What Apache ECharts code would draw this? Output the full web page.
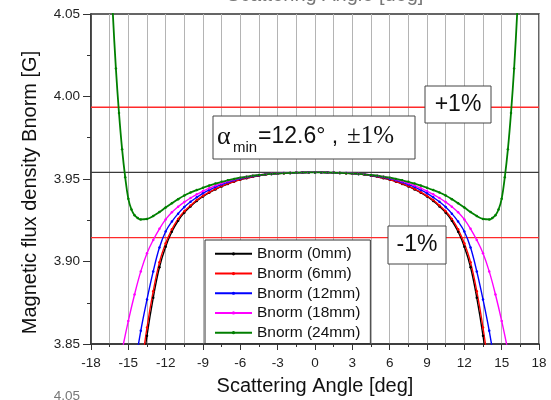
<!DOCTYPE html>
<html>
<head>
<meta charset="utf-8">
<script src="https://cdn.jsdelivr.net/npm/echarts@6/dist/echarts.min.js"></script>
<style>
  html, body { margin: 0; padding: 0; background: #fff; }
  #chart { width: 551px; height: 400px; }
</style>
</head>
<body>
<div id="chart"></div>
<script>
// Scattering angle samples (deg) shared by the 0–18 mm curves
const angleGrid = [-16.5,-16,-15.5,-15,-14.5,-14,-13.5,-13,-12.5,-12,-11.5,-11,-10.5,-10,-9.5,-9,-8.5,-8,-7.5,-7,-6.5,-6,-5.5,-5,-4.5,-4,-3.5,-3,-2.5,-2,-1.5,-1,-0.5,
  0,0.5,1,1.5,2,2.5,3,3.5,4,4.5,5,5.5,6,6.5,7,7.5,8,8.5,9,9.5,10,10.5,11,11.5,12,12.5,13,13.5,14,14.5,15,15.5,16,16.5];

// Bnorm [G] along angleGrid
const bnorm0mm = [null,null,null,null,null,3.8260,3.8550,3.8780,3.8965,3.9090,3.9180,3.9247,3.9296,3.9334,3.9367,3.9394,3.9417,3.9437,3.9455,3.9470,3.9484,3.9496,3.9505,3.9513,3.9520,3.9526,3.9530,3.9533,3.9535,3.9537,3.9538,3.9539,3.9540,
  3.9540,3.9540,3.9539,3.9538,3.9537,3.9535,3.9533,3.9530,3.9526,3.9520,3.9513,3.9505,3.9496,3.9484,3.9470,3.9455,3.9437,3.9417,3.9394,3.9367,3.9334,3.9296,3.9247,3.9180,3.9090,3.8965,3.8780,3.8550,3.8260,null,null,null,null,null];
const bnorm6mm = [null,null,null,null,null,3.8330,3.8600,3.8820,3.8995,3.9110,3.9195,3.9258,3.9304,3.9340,3.9372,3.9398,3.9420,3.9440,3.9457,3.9472,3.9485,3.9497,3.9506,3.9514,3.9521,3.9526,3.9530,3.9533,3.9535,3.9537,3.9538,3.9539,3.9540,
  3.9540,3.9540,3.9539,3.9538,3.9537,3.9535,3.9533,3.9530,3.9526,3.9521,3.9514,3.9506,3.9497,3.9485,3.9472,3.9457,3.9440,3.9420,3.9398,3.9372,3.9340,3.9304,3.9258,3.9195,3.9110,3.8995,3.8820,3.8600,3.8330,null,null,null,null,null];
const bnorm12mm = [null,null,null,null,3.8350,3.8580,3.8770,3.8940,3.9085,3.9182,3.9242,3.9290,3.9330,3.9362,3.9389,3.9413,3.9433,3.9451,3.9466,3.9480,3.9492,3.9502,3.9510,3.9517,3.9523,3.9528,3.9531,3.9534,3.9536,3.9537,3.9538,3.9539,3.9540,
  3.9540,3.9540,3.9539,3.9538,3.9537,3.9536,3.9534,3.9531,3.9528,3.9523,3.9517,3.9510,3.9502,3.9492,3.9480,3.9466,3.9451,3.9433,3.9413,3.9389,3.9362,3.9330,3.9290,3.9242,3.9182,3.9085,3.8940,3.8770,3.8580,3.8350,null,null,null,null];
const bnorm18mm = [null,3.8260,3.8460,3.8640,3.8800,3.8940,3.9050,3.9130,3.9198,3.9255,3.9298,3.9332,3.9360,3.9385,3.9407,3.9427,3.9444,3.9460,3.9474,3.9486,3.9497,3.9506,3.9514,3.9520,3.9525,3.9529,3.9532,3.9534,3.9536,3.9537,3.9538,3.9539,3.9540,
  3.9540,3.9540,3.9539,3.9538,3.9537,3.9536,3.9534,3.9532,3.9529,3.9525,3.9520,3.9514,3.9506,3.9497,3.9486,3.9474,3.9460,3.9444,3.9427,3.9407,3.9385,3.9360,3.9332,3.9298,3.9255,3.9198,3.9130,3.9050,3.8940,3.8800,3.8640,3.8460,3.8260,null];

// The 24 mm curve turns sharply near its minima, so it is sampled more finely there
const angle24mm = [-16.5,-16.25,-16,-15.75,-15.5,-15.25,-15,-14.75,-14.5,-14.25,-14,-13.5,-13,-12.5,-12,-11.5,-11,-10.5,-10,-9.5,-9,-8.5,-8,-7.5,-7,-6.5,-6,-5.5,-5,-4.5,-4,-3.5,-3,-2.5,-2,-1.5,-1,-0.5,
  0,0.5,1,1.5,2,2.5,3,3.5,4,4.5,5,5.5,6,6.5,7,7.5,8,8.5,9,9.5,10,10.5,11,11.5,12,12.5,13,13.5,14,14.25,14.5,14.75,15,15.25,15.5,15.75,16,16.25,16.5];
const bnorm24mm = [4.0900,4.0510,4.0170,3.9900,3.9680,3.9510,3.9380,3.9315,3.9280,3.9264,3.9255,3.9258,3.9276,3.9300,3.9327,3.9353,3.9378,3.9400,3.9418,3.9433,3.9447,3.9460,3.9472,3.9483,3.9492,3.9500,3.9508,3.9514,3.9520,3.9524,3.9528,3.9531,3.9533,3.9535,3.9537,3.9538,3.9539,3.9540,
  3.9540,3.9540,3.9539,3.9538,3.9537,3.9535,3.9533,3.9531,3.9528,3.9524,3.9520,3.9514,3.9508,3.9500,3.9492,3.9483,3.9472,3.9460,3.9447,3.9433,3.9418,3.9400,3.9378,3.9353,3.9327,3.9300,3.9276,3.9258,3.9255,3.9264,3.9280,3.9315,3.9380,3.9510,3.9680,3.9900,4.0170,4.0510,4.0900];

const seriesNames = ['Bnorm (0mm)', 'Bnorm (6mm)', 'Bnorm (12mm)', 'Bnorm (18mm)', 'Bnorm (24mm)'];
const seriesColors = ['#000000', '#ff0000', '#0000ff', '#ff00ff', '#008000'];

// Nominal field and the ±1% tolerance band
const nominalField = 3.954;
const toleranceLines = [3.9935, 3.9145];
const angleRange = [-18, 18];

const SANS = '"Liberation Sans", Arial, sans-serif';
const SERIF = '"Liberation Serif", "Times New Roman", serif';

const pairs = (xs, ys) => xs.map((x, i) => [x, ys[i]]).filter(p => p[1] != null);
const curveData = [
  pairs(angleGrid, bnorm0mm),
  pairs(angleGrid, bnorm6mm),
  pairs(angleGrid, bnorm12mm),
  pairs(angleGrid, bnorm18mm),
  pairs(angle24mm, bnorm24mm)
];

// horizontal reference levels spanning the whole angle range
function levelSeries(value, color, width) {
  return {
    type: 'line',
    data: angleRange.map(a => [a, value]),
    symbol: 'none',
    silent: true,
    lineStyle: { color, width, type: 'solid' },
    emphasis: { disabled: true },
    z: 1
  };
}

const curves = seriesNames.map((name, i) => ({
  name,
  type: 'line',
  data: curveData[i],
  smooth: 0.4,
  symbol: 'circle',
  symbolSize: 2.5,
  showSymbol: true,
  lineStyle: { color: seriesColors[i], width: i === 4 ? 1.8 : 1.4 },
  itemStyle: { color: seriesColors[i] },
  emphasis: { disabled: true },
  clip: true,
  z: 2
}));

function label(x, y, text, font, fill, align, extra) {
  return Object.assign({
    type: 'text', x, y, z: 110,
    style: {
      text, font, fill: fill || '#111',
      align: align || 'center', textAlign: align || 'center',
      verticalAlign: 'middle', textVerticalAlign: 'middle'
    }
  }, extra || {});
}
function box(x, y, w, h) {
  return {
    type: 'rect', z: 100,
    shape: { x, y, width: w, height: h },
    style: { fill: '#fff', stroke: '#444', lineWidth: 1 }
  };
}

const chart = echarts.init(document.getElementById('chart'), null, { renderer: 'canvas' });
chart.setOption({
  animation: false,
  backgroundColor: '#fff',
  grid: {
    left: 91, right: 12, top: 14, bottom: 56,
    show: true, borderColor: '#333', borderWidth: 1.5, backgroundColor: 'transparent'
  },
  xAxis: {
    type: 'value', min: -18, max: 18, interval: 3,
    axisLine: { show: true, onZero: false, lineStyle: { color: '#333', width: 1.5 } },
    axisTick: { show: true, inside: false, length: 6, lineStyle: { color: '#333', width: 1 } },
    minorTick: { show: true, splitNumber: 2, length: 3, lineStyle: { color: '#333', width: 1 } },
    splitLine: { show: true, lineStyle: { color: '#b4b4b4', width: 1 } },
    minorSplitLine: { show: true, lineStyle: { color: '#b4b4b4', width: 1 } },
    axisLabel: { margin: 12, fontSize: 13.5, color: '#222', fontFamily: SANS }
  },
  yAxis: {
    type: 'value', min: 3.85, max: 4.05, interval: 0.05,
    axisLine: { show: true, onZero: false, lineStyle: { color: '#333', width: 1.5 } },
    axisTick: { show: true, inside: false, length: 8, lineStyle: { color: '#333', width: 1 } },
    minorTick: { show: true, splitNumber: 2, length: 4, lineStyle: { color: '#333', width: 1 } },
    splitLine: { show: false },
    axisLabel: { margin: 11, fontSize: 13.5, color: '#222', fontFamily: SANS, formatter: v => v.toFixed(2) }
  },
  legend: {
    orient: 'vertical', left: 205, top: 240,
    data: seriesNames,
    itemWidth: 37, itemHeight: 4, itemGap: 0,
    padding: [4, 10, 1, 9],
    backgroundColor: '#fff', borderColor: '#333', borderWidth: 1, borderRadius: 0,
    selectedMode: false,
    textStyle: { fontSize: 15.5, fontFamily: SANS, color: '#111', lineHeight: 19.7 },
    z: 120
  },
  series: [
    levelSeries(nominalField, '#3a3a3a', 1.2),
    levelSeries(toleranceLines[0], '#ff2a2a', 1.3),
    levelSeries(toleranceLines[1], '#ff2a2a', 1.3)
  ].concat(curves),
  graphic: [
    // axis titles
    label(30, 192.5, 'Magnetic flux density Bnorm [G]', '20px ' + SANS, '#111', 'center', { rotation: Math.PI / 2 }),
    label(315, 386, 'Scattering Angle [deg]', '20px ' + SANS, '#111'),
    // neighbouring panel text, clipped by the page edges
    label(325, -5, 'Scattering Angle [deg]', '20px ' + SANS, '#777'),
    label(80, 396, '4.05', '13.5px ' + SANS, '#777', 'right'),
    // tolerance annotations
    box(425, 86, 66, 37),
    label(458, 105, '+1%', '23px ' + SANS, '#111'),
    box(388, 226, 58, 38),
    label(417, 245, '-1%', '23px ' + SANS, '#111'),
    box(213, 116, 202, 43),
    label(217, 137, 'α', '26px ' + SERIF, '#111', 'left'),
    label(233, 147.5, 'min', '15px ' + SANS, '#111', 'left'),
    label(258, 137, '=12.6° ,', '23px ' + SANS, '#111', 'left'),
    label(347, 136.5, '±1%', '25px ' + SERIF, '#111', 'left')
  ]
});
</script>
</body>
</html>
